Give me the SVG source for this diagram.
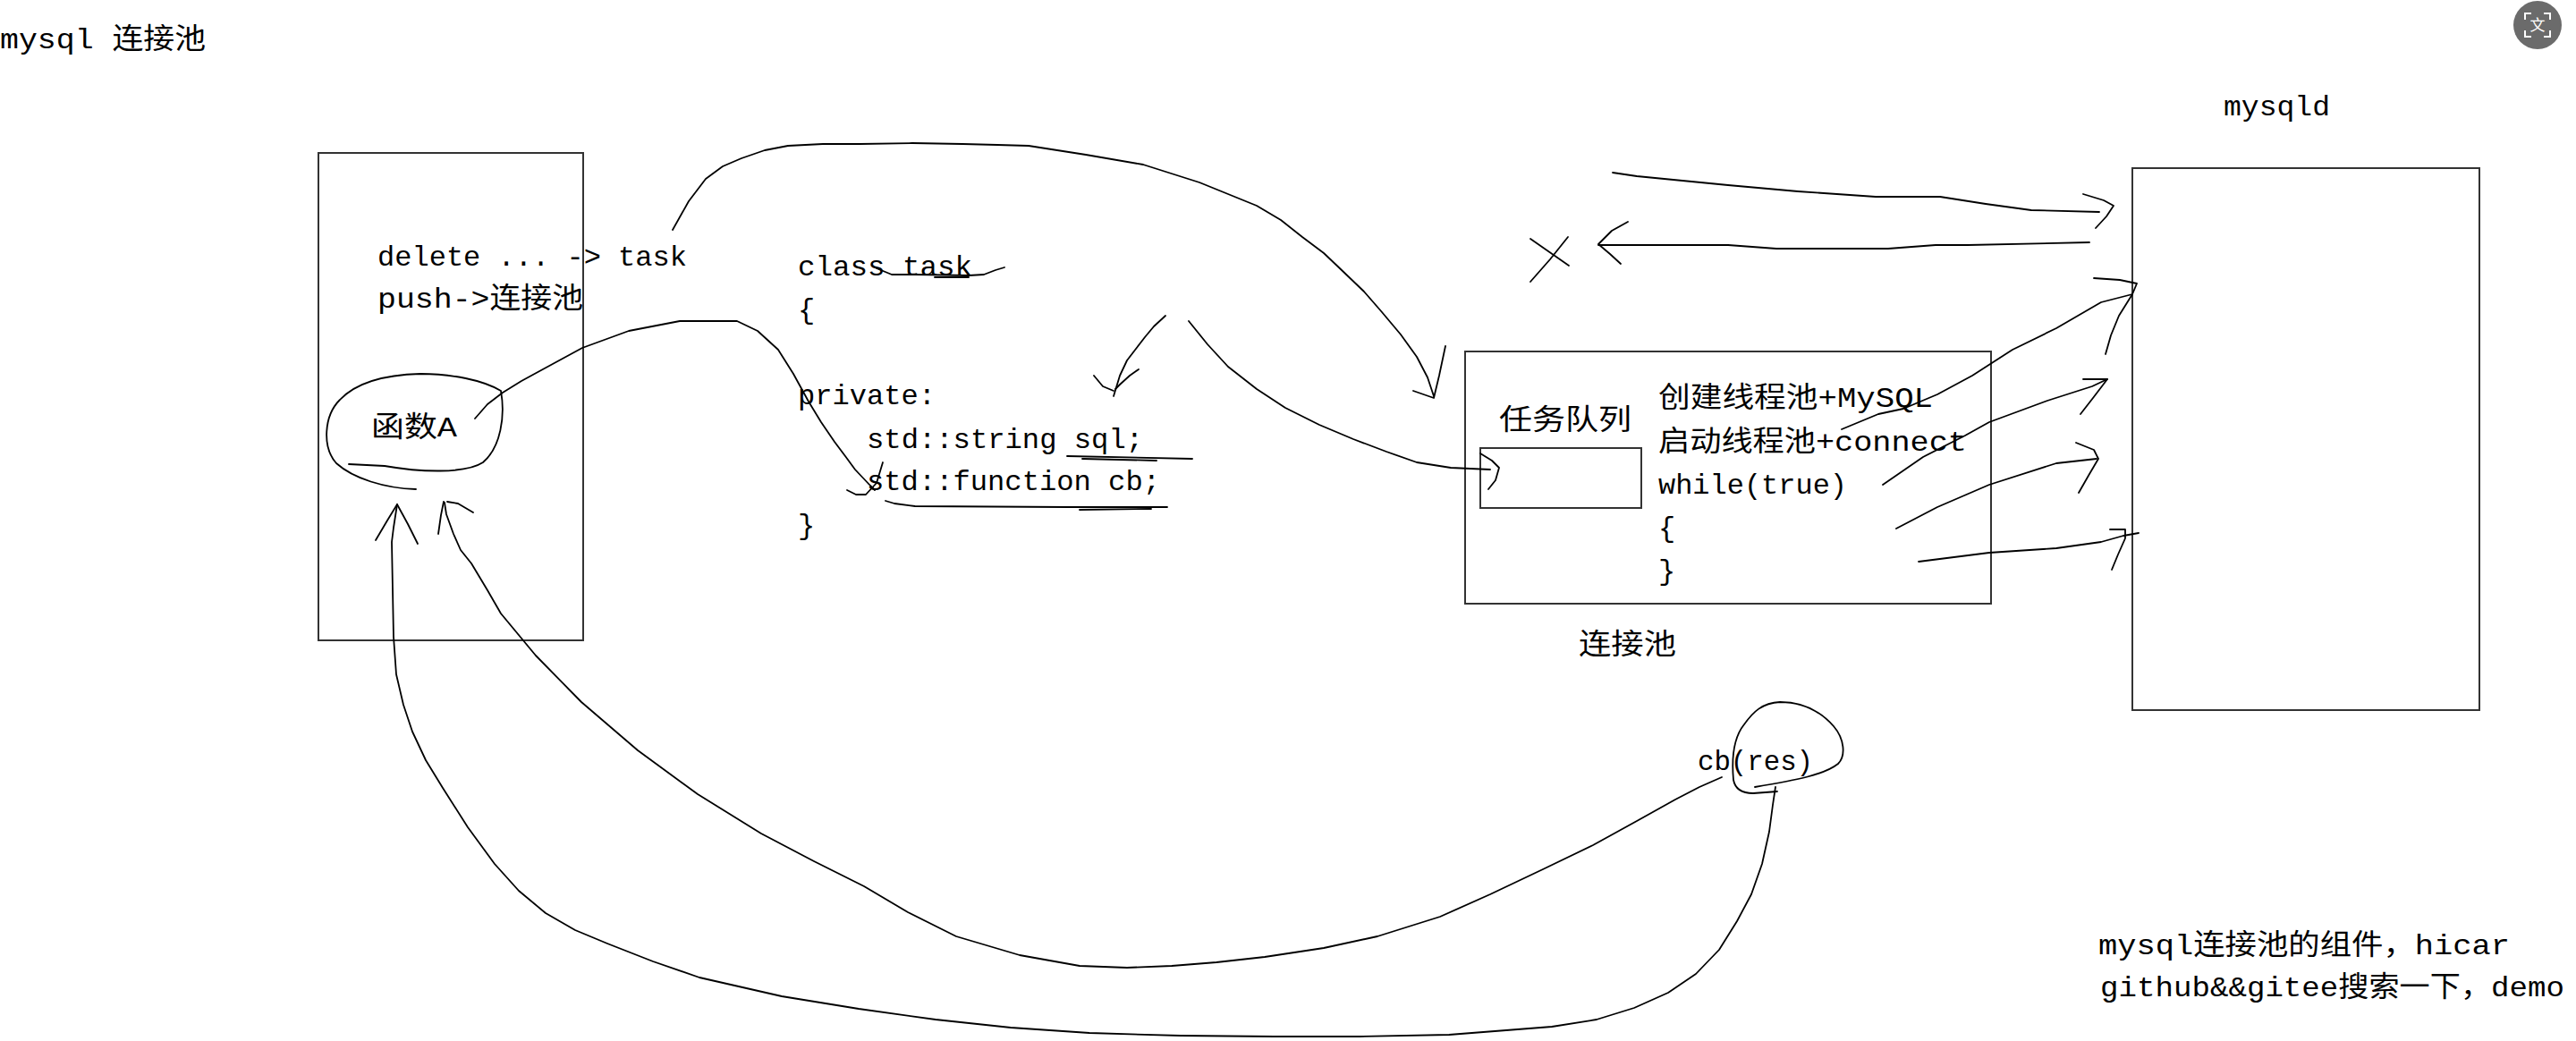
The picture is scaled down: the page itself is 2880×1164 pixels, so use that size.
<svg xmlns="http://www.w3.org/2000/svg" width="2880" height="1164" viewBox="0 0 2880 1164">
<style>
text{font-family:"Liberation Mono","Noto Sans CJK SC",monospace;font-size:32px;fill:#000}
.box{fill:none;stroke:#333;stroke-width:2}
.ink{fill:none;stroke:#000;stroke-width:1.8;stroke-linecap:round;stroke-linejoin:round}
</style>
<rect width="2880" height="1164" fill="#fff"/>
<g id="title"><text x="0" y="54" textLength="230" lengthAdjust="spacingAndGlyphs">mysql 连接池</text></g>
<g id="client">
<rect class="box" x="356" y="171" width="296" height="545"/>
<text x="422" y="297" textLength="346" lengthAdjust="spacingAndGlyphs">delete ... -&gt; task</text>
<text x="422" y="344" textLength="230" lengthAdjust="spacingAndGlyphs">push-&gt;连接池</text>
<text x="415" y="488" textLength="96" lengthAdjust="spacingAndGlyphs">函数A</text>
<path class="ink" d="M465,547 C430,546 395,535 376,518 C360,500 362,465 380,447 C398,428 430,419 470,418 C505,418 540,425 560,437 C565,465 560,500 540,517 C520,530 470,528 430,521 L390,519"/>
</g>
<g id="task-class">
<text x="892" y="308" textLength="195" lengthAdjust="spacingAndGlyphs">class task</text>
<text x="892" y="356">{</text>
<text x="892" y="452" textLength="154" lengthAdjust="spacingAndGlyphs">private:</text>
<text x="969" y="501" textLength="309" lengthAdjust="spacingAndGlyphs">std::string sql;</text>
<text x="969" y="548" textLength="328" lengthAdjust="spacingAndGlyphs">std::function cb;</text>
<text x="892" y="597">}</text>
<path class="ink" d="M980,300 L997,307 L1023,307 L1083,308 L1100,307 L1113,302 L1123,299 M1045,310 L1083,310"/>
<path class="ink" d="M1193,510 L1333,513 M1210,513 L1293,515"/>
<path class="ink" d="M990,560 L1000,563 L1023,566 L1193,567 L1305,567 M1207,570 L1287,569"/>
</g>
<g id="pool">
<rect class="box" x="1638" y="393" width="588" height="282"/>
<rect class="box" x="1655" y="501" width="180" height="67"/>
<text x="1676" y="480" textLength="148" lengthAdjust="spacingAndGlyphs">任务队列</text>
<text x="1854" y="455" textLength="307" lengthAdjust="spacingAndGlyphs">创建线程池+MySQL</text>
<text x="1854" y="504" textLength="345" lengthAdjust="spacingAndGlyphs">启动线程池+connect</text>
<text x="1854" y="552" textLength="211" lengthAdjust="spacingAndGlyphs">while(true)</text>
<text x="1854" y="600">{</text>
<text x="1854" y="648">}</text>
<text x="1765" y="731" textLength="109" lengthAdjust="spacingAndGlyphs">连接池</text>
</g>
<g id="mysqld">
<rect class="box" x="2384" y="188" width="388" height="606"/>
<text x="2486" y="129" textLength="119" lengthAdjust="spacingAndGlyphs">mysqld</text>
</g>
<g id="callback">
<text x="1898" y="861" textLength="129" lengthAdjust="spacingAndGlyphs">cb(res)</text>
<path class="ink" d="M1938,872 C1936,850 1938,825 1950,810 C1960,796 1970,786 1990,785 C2015,785 2035,795 2050,812 C2062,826 2064,845 2055,854 C2040,866 2010,872 1962,880 M1938,872 C1940,883 1948,887 1960,887 L1987,885"/>
</g>
<g id="note">
<text x="2346" y="1067" textLength="460" lengthAdjust="spacingAndGlyphs">mysql连接池的组件，hicar</text>
<text x="2348" y="1114" textLength="519" lengthAdjust="spacingAndGlyphs">github&amp;&amp;gitee搜索一下，demo</text>
</g>
<g id="translate-icon">
<circle cx="2837" cy="28" r="27" fill="#6b6b6b"/>
<path d="M2823,22 V15 H2830 M2844,15 H2851 V22 M2851,34 V41 H2844 M2830,41 H2823 V34" fill="none" stroke="#fff" stroke-width="2"/>
<text x="2837" y="34" text-anchor="middle" style="font-size:17px;fill:#fff;font-family:'Noto Sans CJK SC',sans-serif">文</text>
</g>
<g id="connectors">
<path class="ink" d="M752,257 L770,225 L789,200 L808,186 L829,177 L855,168 L881,163 L920,161 L961,161 L1020,160 L1076,161 L1115,162 L1150,163 L1214,173 L1278,184 L1341,204 L1405,230 L1432,246 L1456,265 L1480,283 L1501,303 L1525,326 L1545,349 L1566,374 L1584,399 L1596,422 L1603,443"/>
<path class="ink" d="M1580,437 L1603,445 L1609,420 L1616,387"/>
<path class="ink" d="M1303,353 L1290,365 L1280,377 L1270,390 L1260,403 L1252,420 L1245,443"/>
<path class="ink" d="M1223,420 L1233,432 L1245,437 M1273,413 L1263,420 L1252,430 L1247,435"/>
<path class="ink" d="M1329,359 L1350,385 L1373,410 L1405,435 L1437,456 L1475,475 L1513,491 L1550,505 L1584,517 L1622,523 L1666,525"/>
<path class="ink" d="M1655,507 L1668,515 L1676,523 L1672,537 L1664,547"/>
<path class="ink" d="M531,468 L545,452 L562,439 L583,426 L605,414 L651,389 L703,370 L760,359 L824,359 L847,370 L870,391 L887,418 L904,449 L918,472 L933,494 L945,510 L956,525 L973,543 L978,548"/>
<path class="ink" d="M947,548 L957,553 L968,553 L980,540 L987,517"/>
<path class="ink" d="M444,564 L440,590 L438,606 L440,712 L443,754 L451,788 L461,818 L476,850 L495,881 L523,925 L553,966 L580,996 L610,1021 L643,1040 L679,1055 L730,1075 L782,1093 L874,1114 L960,1128 L1046,1140 L1130,1149 L1218,1155 L1320,1158 L1425,1159 L1520,1159 L1620,1157 L1735,1148 L1785,1140 L1827,1127 L1865,1110 L1896,1089 L1922,1062 L1942,1030 L1958,1000 L1970,966 L1978,930 L1982,900 L1985,880"/>
<path class="ink" d="M420,604 L433,582 L444,564 L456,586 L467,608"/>
<path class="ink" d="M497,562 L499,575 L507,597 L515,615 L527,630 L545,660 L560,686 L599,733 L650,785 L713,839 L780,888 L851,932 L910,963 L966,991 L1015,1020 L1069,1047 L1140,1068 L1207,1080 L1260,1082 L1310,1080 L1360,1076 L1414,1070 L1480,1060 L1540,1047 L1610,1025 L1666,1000 L1725,972 L1781,945 L1830,918 L1873,894 L1900,880 L1925,869"/>
<path class="ink" d="M490,597 L493,576 L496,561 M500,561 L512,563 L529,573"/>
<path class="ink" d="M1711,267 L1754,297 M1753,265 L1733,290 L1711,315"/>
<path class="ink" d="M2336,271 L2200,274 L2164,274 L2111,278 L1986,278 L1932,274 L1787,274"/>
<path class="ink" d="M1820,248 L1802,258 L1787,273 L1800,284 L1812,295"/>
<path class="ink" d="M1803,193 L1830,197 L1932,207 L2010,214 L2097,220 L2169,220 L2220,228 L2271,235 L2347,237"/>
<path class="ink" d="M2329,217 L2352,224 L2363,230 L2355,242 L2343,255"/>
<path class="ink" d="M2059,480 L2100,463 L2128,457 L2166,441 L2205,420 L2250,391 L2299,367 L2349,338 L2384,329"/>
<path class="ink" d="M2341,311 L2370,313 L2389,317 L2384,329 L2369,353 L2360,375 L2354,396"/>
<path class="ink" d="M2105,542 L2150,511 L2197,487 L2224,472 L2289,448 L2339,432 L2356,424"/>
<path class="ink" d="M2329,424 L2356,424 L2340,445 L2326,463"/>
<path class="ink" d="M2120,591 L2166,567 L2224,542 L2299,518 L2344,513"/>
<path class="ink" d="M2321,495 L2341,503 L2346,513 L2336,530 L2324,551"/>
<path class="ink" d="M2145,628 L2224,618 L2299,613 L2349,606 L2374,599 L2391,596"/>
<path class="ink" d="M2359,592 L2376,592 L2376,602 L2368,620 L2361,637"/>
</g>
</svg>
